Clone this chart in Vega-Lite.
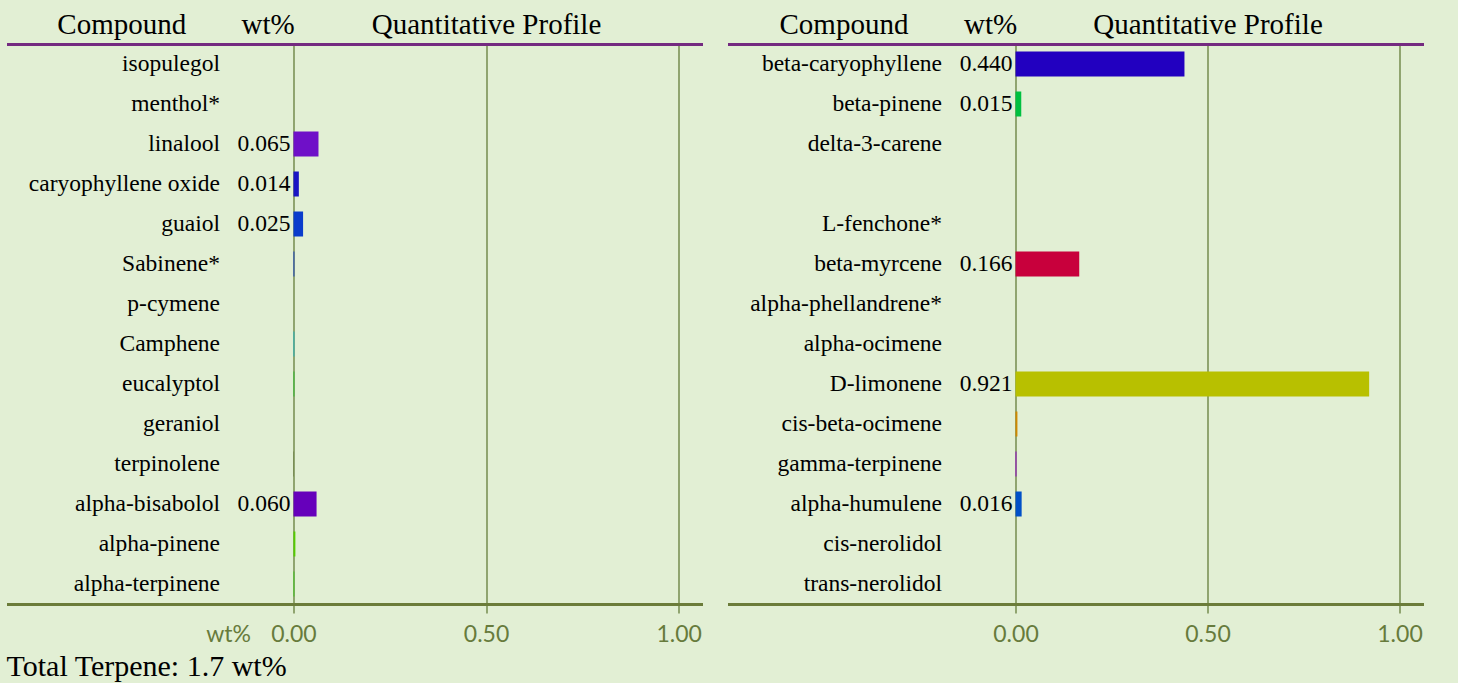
{
  "$schema": "https://vega.github.io/schema/vega-lite/v6.json",
  "background": "#e2efd4",
  "padding": {"left": 6.5, "top": 10, "right": 34, "bottom": 5},
  "spacing": 25,
  "title": {"text": "Total Terpene: 1.7 wt%", "orient": "bottom", "anchor": "start", "font": "Liberation Serif", "fontSize": 30, "fontWeight": "normal", "color": "black", "offset": 6},
  "datasets": {
    "left": [
      {"compound": "isopulegol", "value": 0},
      {"compound": "menthol*", "value": 0},
      {"compound": "linalool", "value": 0.065},
      {"compound": "caryophyllene oxide", "value": 0.014},
      {"compound": "guaiol", "value": 0.025},
      {"compound": "Sabinene*", "value": 0.0025},
      {"compound": "p-cymene", "value": 0},
      {"compound": "Camphene", "value": 0.0025},
      {"compound": "eucalyptol", "value": 0.0025},
      {"compound": "geraniol", "value": 0},
      {"compound": "terpinolene", "value": 0.001},
      {"compound": "alpha-bisabolol", "value": 0.06},
      {"compound": "alpha-pinene", "value": 0.005},
      {"compound": "alpha-terpinene", "value": 0.0025}
    ],
    "right": [
      {"compound": "beta-caryophyllene", "value": 0.44},
      {"compound": "beta-pinene", "value": 0.015},
      {"compound": "delta-3-carene", "value": 0},
      {"compound": " ", "value": 0},
      {"compound": "L-fenchone*", "value": 0},
      {"compound": "beta-myrcene", "value": 0.166},
      {"compound": "alpha-phellandrene*", "value": 0},
      {"compound": "alpha-ocimene", "value": 0},
      {"compound": "D-limonene", "value": 0.921},
      {"compound": "cis-beta-ocimene", "value": 0.005},
      {"compound": "gamma-terpinene", "value": 0.0025},
      {"compound": "alpha-humulene", "value": 0.016},
      {"compound": "cis-nerolidol", "value": 0},
      {"compound": "trans-nerolidol", "value": 0}
    ]
  },
  "hconcat": [
    {
      "width": 696,
      "height": 560,
      "data": {"name": "left"},
      "layer": [
        {
          "mark": {"type": "bar"},
          "encoding": {
            "y": {"field": "compound", "type": "nominal", "sort": null,
              "scale": {"paddingInner": 0.375, "paddingOuter": 0.1875},
              "axis": {"title": null, "domain": false, "ticks": false, "tickSize": 0, "grid": false, "labelFont": "Liberation Serif", "labelFontSize": 23.5, "labelColor": "black", "labelPadding": -213, "labelLimit": 0, "labelAlign": "right", "labelBaseline": "middle"}},
            "x": {"field": "value", "type": "quantitative",
              "scale": {"domain": [-0.745, 1.062], "nice": false, "zero": false},
              "axis": {"orient": "bottom", "values": [0, 0.5, 1], "format": ".2f", "grid": true, "gridColor": "#5a722c", "gridWidth": 1.2, "domainColor": "#6b7c3a", "domainWidth": 3, "tickColor": "#5a722c", "tickSize": 9, "tickWidth": 1.2, "labelFont": "Lato", "labelFontSize": 23, "labelColor": "#677b3c", "labelPadding": 10, "labelFlush": false, "labelOverlap": false, "title": "wt%", "titleFont": "Lato", "titleFontSize": 23, "titleFontWeight": "normal", "titleColor": "#677b3c", "titleX": 244, "titleY": 30, "titleAlign": "right", "titleBaseline": "middle"}},
            "x2": {"datum": 0},
            "color": {"field": "compound", "type": "nominal", "legend": null,
              "scale": {
                "domain": ["isopulegol", "menthol*", "linalool", "caryophyllene oxide", "guaiol", "Sabinene*", "p-cymene", "Camphene", "eucalyptol", "geraniol", "terpinolene", "alpha-bisabolol", "alpha-pinene", "alpha-terpinene"],
                "range": ["#888888", "#888888", "#6f10c8", "#1a14c4", "#0a3ccc", "#1a40c8", "#888888", "#20b4c4", "#30c030", "#888888", "#5a6a30", "#6600bb", "#55cc00", "#40c820"]}}
          }
        },
        {
          "mark": {"type": "text", "align": "right", "baseline": "middle", "dx": -3, "font": "Liberation Serif", "fontSize": 23.5, "color": "black"},
          "encoding": {
            "y": {"field": "compound", "type": "nominal", "sort": null},
            "x": {"datum": 0, "type": "quantitative",
              "axis": {"orient": "top", "values": [-0.447, -0.067, 0.5], "labelExpr": "datum.value < -0.2 ? 'Compound' : (datum.value < 0.2 ? 'wt%' : 'Quantitative Profile')", "grid": false, "ticks": false, "tickSize": 0, "domainColor": "#742a80", "domainWidth": 3, "labelFont": "Liberation Serif", "labelFontSize": 29, "labelColor": "black", "labelPadding": 4.5, "labelLimit": 0, "labelFlush": false, "labelOverlap": false, "title": null}},
            "text": {"condition": {"test": "datum.value >= 0.01", "field": "value", "type": "quantitative", "format": ".3f"}, "value": ""}
          }
        }
      ]
    },
    {
      "width": 696,
      "height": 560,
      "data": {"name": "right"},
      "layer": [
        {
          "mark": {"type": "bar"},
          "encoding": {
            "y": {"field": "compound", "type": "nominal", "sort": null,
              "scale": {"paddingInner": 0.375, "paddingOuter": 0.1875},
              "axis": {"title": null, "domain": false, "ticks": false, "tickSize": 0, "grid": false, "labelFont": "Liberation Serif", "labelFontSize": 23.5, "labelColor": "black", "labelPadding": -214, "labelLimit": 0, "labelAlign": "right", "labelBaseline": "middle"}},
            "x": {"field": "value", "type": "quantitative",
              "scale": {"domain": [-0.75, 1.0625], "nice": false, "zero": false},
              "axis": {"orient": "bottom", "values": [0, 0.5, 1], "format": ".2f", "grid": true, "gridColor": "#5a722c", "gridWidth": 1.2, "domainColor": "#6b7c3a", "domainWidth": 3, "tickColor": "#5a722c", "tickSize": 9, "tickWidth": 1.2, "labelFont": "Lato", "labelFontSize": 23, "labelColor": "#677b3c", "labelPadding": 10, "labelFlush": false, "labelOverlap": false, "title": null}},
            "x2": {"datum": 0},
            "color": {"field": "compound", "type": "nominal", "legend": null,
              "scale": {
                "domain": ["beta-caryophyllene", "beta-pinene", "delta-3-carene", " ", "L-fenchone*", "beta-myrcene", "alpha-phellandrene*", "alpha-ocimene", "D-limonene", "cis-beta-ocimene", "gamma-terpinene", "alpha-humulene", "cis-nerolidol", "trans-nerolidol"],
                "range": ["#2200c0", "#00c040", "#888888", "#888888", "#888888", "#c8003c", "#888888", "#888888", "#b8c000", "#d08800", "#9a00d8", "#0050c8", "#888888", "#888888"]}}
          }
        },
        {
          "mark": {"type": "text", "align": "right", "baseline": "middle", "dx": -3, "font": "Liberation Serif", "fontSize": 23.5, "color": "black"},
          "encoding": {
            "y": {"field": "compound", "type": "nominal", "sort": null},
            "x": {"datum": 0, "type": "quantitative",
              "axis": {"orient": "top", "values": [-0.448, -0.066, 0.5], "labelExpr": "datum.value < -0.2 ? 'Compound' : (datum.value < 0.2 ? 'wt%' : 'Quantitative Profile')", "grid": false, "ticks": false, "tickSize": 0, "domainColor": "#742a80", "domainWidth": 3, "labelFont": "Liberation Serif", "labelFontSize": 29, "labelColor": "black", "labelPadding": 4.5, "labelLimit": 0, "labelFlush": false, "labelOverlap": false, "title": null}},
            "text": {"condition": {"test": "datum.value >= 0.01", "field": "value", "type": "quantitative", "format": ".3f"}, "value": ""}
          }
        }
      ]
    }
  ],
  "resolve": {"scale": {"x": "independent", "y": "independent", "color": "independent"}},
  "config": {"view": {"stroke": null}}
}
